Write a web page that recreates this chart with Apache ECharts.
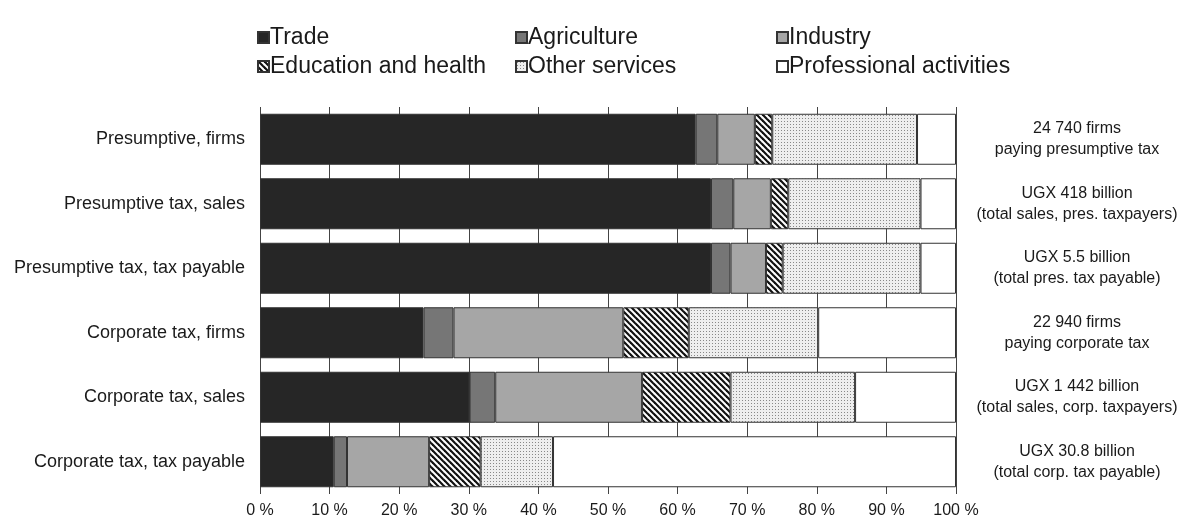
<!DOCTYPE html>
<html>
<head>
<meta charset="utf-8">
<script src="https://cdn.jsdelivr.net/npm/echarts@6/dist/echarts.min.js"></script>
<style>
html,body{margin:0;padding:0;background:#fff;}
#chart{width:1189px;height:520px;}
</style>
</head>
<body>
<div id="chart"></div>
<script>
const categories = ['Presumptive, firms','Presumptive tax, sales','Presumptive tax, tax payable','Corporate tax, firms','Corporate tax, sales','Corporate tax, tax payable'];
const annotations = ['24 740 firms\npaying presumptive tax','UGX 418 billion\n(total sales, pres. taxpayers)','UGX 5.5 billion\n(total pres. tax payable)','22 940 firms\npaying corporate tax','UGX 1 442 billion\n(total sales, corp. taxpayers)','UGX 30.8 billion\n(total corp. tax payable)'];
const seriesNames = ['Trade','Agriculture','Industry','Education and health','Other services','Professional activities'];
const trade = [62.6, 64.8, 64.8, 23.5, 30.1, 10.6];
const agriculture = [3.1, 3.2, 2.8, 4.3, 3.7, 1.9];
const industry = [5.4, 5.4, 5.1, 24.4, 21.1, 11.8];
const eduHealth = [2.5, 2.5, 2.4, 9.4, 12.7, 7.4];
const otherServices = [20.8, 19.0, 19.8, 18.6, 17.9, 10.4];
const professional = [5.6, 5.1, 5.1, 19.8, 14.5, 57.9];

function hatch(){
  const c = document.createElement('canvas'); c.width = 6; c.height = 6;
  const g = c.getContext('2d');
  g.fillStyle = '#fff'; g.fillRect(0,0,6,6);
  g.strokeStyle = '#111'; g.lineWidth = 2.2;
  for (let k=-1;k<=1;k++){ g.beginPath(); g.moveTo(k*6-1,-1); g.lineTo(k*6+7,7); g.stroke(); }
  return c;
}
function dots(){
  const c = document.createElement('canvas'); c.width = 3; c.height = 3;
  const g = c.getContext('2d');
  g.fillStyle = '#eeeeee'; g.fillRect(0,0,3,3);
  g.fillStyle = '#888'; g.fillRect(1,1,1,1);
  return c;
}
const colors = ['#262626','#767676','#a6a6a6',{image:hatch(),repeat:'repeat'},{image:dots(),repeat:'repeat'},'#ffffff'];
const values = [trade, agriculture, industry, eduHealth, otherServices, professional];

const font = '"Liberation Sans", Arial, sans-serif';
const legendPos = [[257,26],[515,26],[776,26],[257,55],[515,55],[776,55]];

const chart = echarts.init(document.getElementById('chart'), null, {renderer:'canvas'});
chart.setOption({
  animation:false,
  backgroundColor:'#fff',
  textStyle:{fontFamily:font},
  legend: seriesNames.map((n,i)=>({
    data:[n], left:legendPos[i][0], top:legendPos[i][1], padding:0,
    icon:'rect', itemWidth:11, itemHeight:11, itemGap:0,
    textStyle:{fontSize:23, color:'#1a1a1a', fontFamily:font, padding:[0,0,0,-4]},
    selectedMode:false
  })),
  grid:{left:260, right:233, top:107, bottom:26, containLabel:false},
  xAxis:{
    type:'value', min:0, max:100, interval:10,
    axisLine:{show:false}, axisTick:{show:false},
    axisLabel:{formatter:v=>v+' %', fontSize:16, color:'#1a1a1a', margin:9, fontFamily:font},
    splitLine:{show:true, lineStyle:{color:'#444', width:1}}
  },
  yAxis:[{
    type:'category', data:categories, inverse:true,
    axisLine:{show:false}, axisTick:{show:false},
    axisLabel:{fontSize:18, color:'#1a1a1a', margin:15, fontFamily:font}
  },{
    type:'category', data:annotations, inverse:true, position:'right',
    axisLine:{show:false}, axisTick:{show:false},
    axisLabel:{fontSize:16, color:'#1a1a1a', margin:121, align:'center', lineHeight:21, fontFamily:font}
  }],
  series: seriesNames.map((n,i)=>({
    name:n, type:'bar', stack:'all', data:values[i], barWidth:51,
    itemStyle:{color:colors[i], borderColor:'#333', borderWidth:1},
    emphasis:{disabled:true}
  }))
});
</script>
</body>
</html>
